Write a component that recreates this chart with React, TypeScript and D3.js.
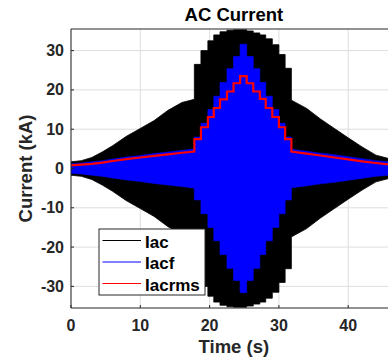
import React from 'react';
import * as d3 from 'd3';

// time (s) where each current level step starts / ends in the middle of the run
const stepEdges = [17.8, 18.75, 19.75, 20.6, 21.5, 22.5, 23.45, 24.4, 25.35, 26.3, 27.25, 28.1, 29.05, 30.0, 30.9, 31.8];
const iacStep = [26.5, 30, 32.5, 34, 34.8, 35.2, 35.3, 35.3, 35, 34.5, 34, 33, 31.5, 29, 25.5];
const iacfStep = [8, 11.5, 15, 18.4, 21.9, 25.4, 28.5, 31.6, 28.5, 25.4, 21.9, 18.4, 15, 11.5, 8];
const iacrmsStep = [7.5, 10.5, 13.1, 15.4, 17.6, 19.6, 21.7, 23.5, 21.7, 19.6, 17.7, 15.4, 13.1, 10.5, 7.5];

// ramp before the steps
const leftT = [0, 1.5, 3, 4.5, 6, 8, 10, 12, 14, 16, 17.8];
const iacLeft = [1.7, 2.0, 2.8, 4.2, 5.8, 8.2, 10.2, 12.2, 14.8, 16.8, 17.6];
const iacfLeft = [1.2, 1.4, 1.7, 2.0, 2.4, 2.9, 3.3, 3.8, 4.2, 4.6, 5.0];
const iacrmsLeft = [0.8, 1.0, 1.2, 1.5, 1.9, 2.4, 2.8, 3.2, 3.6, 4.0, 4.3];

// ramp after the steps
const rightT = [31.8, 34, 36, 38, 40, 42, 44, 47];
const iacRight = [17.4, 15.3, 12.6, 10.2, 7.8, 5.5, 3.4, 2.0];
const iacfRight = [4.9, 4.4, 3.9, 3.5, 3.0, 2.5, 2.0, 1.5];
const iacrmsRight = [4.3, 3.8, 3.3, 2.8, 2.3, 1.8, 1.4, 0.8];

const xTicks = [0, 10, 20, 30, 40];
const yTicks = [-30, -20, -10, 0, 10, 20, 30];
const legendLabels = ['Iac', 'Iacf', 'Iacrms'];
const legendColors = ['#000000', '#0000ff', '#ff0000'];

type Pt = [number, number];

function buildSeries(left: number[], steps: number[], right: number[]): Pt[] {
  const pts: Pt[] = [];
  leftT.forEach((t, i) => pts.push([t, left[i]]));
  steps.forEach((v, i) => {
    pts.push([stepEdges[i], v]);
    pts.push([stepEdges[i + 1], v]);
  });
  rightT.forEach((t, i) => pts.push([t, right[i]]));
  return pts;
}

const W = 388;
const H = 359;
const left = 71;
const top = 29;
const bottom = 308;
const font = '"Liberation Sans", Arial, Helvetica, sans-serif';
const axisColor = '#262626';

export default function App() {
  const x = d3.scaleLinear().domain([0, 47]).range([left, left + 47 * 6.93]);
  const y = d3.scaleLinear().domain([-35.5, 35.5]).range([bottom, top]);
  const right = x(47);

  const iac = buildSeries(iacLeft, iacStep, iacRight);
  const iacf = buildSeries(iacfLeft, iacfStep, iacfRight);
  const iacrms = buildSeries(iacrmsLeft, iacrmsStep, iacrmsRight);

  const band = d3.area<Pt>().x(d => x(d[0])).y0(d => y(-d[1])).y1(d => y(d[1]));
  const line = d3.line<Pt>().x(d => x(d[0])).y(d => y(d[1]));

  const legX = 99;
  const legY = 229;
  const rowY = [240.5, 262, 283.5];

  return (
    <svg width={W} height={H} style={{ position: 'absolute', left: 0, top: 0, background: '#fff' }} fontFamily={font}>
      <defs>
        <clipPath id="plot">
          <rect x={left} y={top} width={right - left} height={bottom - top} />
        </clipPath>
      </defs>
      <rect x={left} y={top} width={right - left} height={bottom - top} fill="#fff" />
      {/* grid */}
      {xTicks.map(t => (
        <line key={'gx' + t} x1={x(t)} x2={x(t)} y1={top} y2={bottom} stroke="#dedede" strokeWidth={1} />
      ))}
      {yTicks.map(t => (
        <line key={'gy' + t} x1={left} x2={right} y1={y(t)} y2={y(t)} stroke="#dedede" strokeWidth={1} />
      ))}
      <g clipPath="url(#plot)">
        <path d={band(iac) || ''} fill="#000" stroke="#000" strokeWidth={0.8} />
        <path d={band(iacf) || ''} fill="#0000ff" stroke="#0000ff" strokeWidth={0.6} />
        <path d={line(iacrms) || ''} fill="none" stroke="#ff0000" strokeWidth={2.2} />
      </g>
      {/* axes box */}
      <line x1={left} x2={right} y1={top} y2={top} stroke={axisColor} strokeWidth={1} />
      <line x1={left} x2={right} y1={bottom} y2={bottom} stroke={axisColor} strokeWidth={1} />
      <line x1={left} x2={left} y1={top} y2={bottom} stroke={axisColor} strokeWidth={1} />
      {xTicks.map(t => (
        <g key={'tx' + t}>
          <line x1={x(t)} x2={x(t)} y1={bottom} y2={bottom - 3} stroke={axisColor} />
          <text x={x(t)} y={331} textAnchor="middle" fontSize={16} fontWeight="bold" fill={axisColor}>{t}</text>
        </g>
      ))}
      {yTicks.map(t => (
        <g key={'ty' + t}>
          <line x1={left} x2={left + 3} y1={y(t)} y2={y(t)} stroke={axisColor} />
          <text x={64} y={y(t) + 5.5} textAnchor="end" fontSize={16} fontWeight="bold" fill={axisColor}>{t}</text>
        </g>
      ))}
      <text x={(left + right) / 2} y={20.5} textAnchor="middle" fontSize={18.5} fontWeight="bold" fill="#000">AC Current</text>
      <text x={(left + right) / 2} y={353} textAnchor="middle" fontSize={18.5} fontWeight="bold" fill={axisColor}>Time (s)</text>
      <text transform={`translate(31.5, ${(top + bottom) / 2}) rotate(-90)`} textAnchor="middle" fontSize={18.5} fontWeight="bold" fill={axisColor}>Current (kA)</text>
      {/* legend */}
      <rect x={legX} y={legY} width={106} height={66} fill="#fff" stroke={axisColor} strokeWidth={1} />
      {legendLabels.map((lab, i) => (
        <g key={lab}>
          <line x1={102.5} x2={141} y1={rowY[i]} y2={rowY[i]} stroke={legendColors[i]} strokeWidth={1} />
          <text x={145} y={rowY[i] + 7} fontSize={17} fontWeight="bold" fill="#000">{lab}</text>
        </g>
      ))}
    </svg>
  );
}
